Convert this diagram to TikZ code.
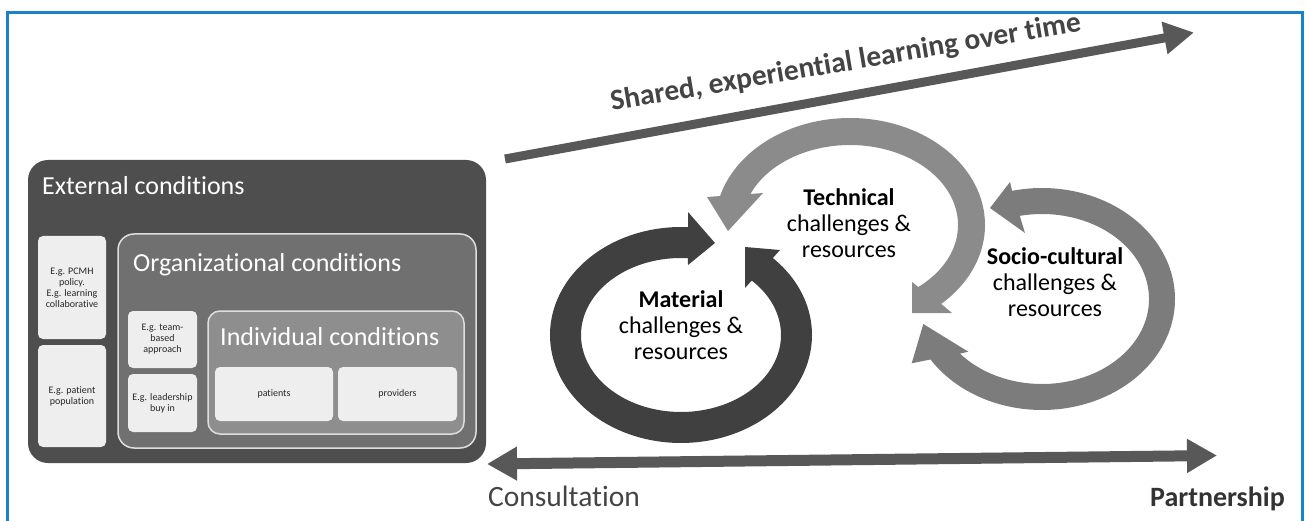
\documentclass[tikz,border=0pt]{standalone}
\usepackage{fontspec}
\setmainfont{Carlito}[Ligatures=NoCommon]
\usetikzlibrary{arrows.meta}

\definecolor{frameblue}{RGB}{26,130,200}
\definecolor{extgray}{RGB}{78,78,78}
\definecolor{orggray}{RGB}{112,112,112}
\definecolor{indgray}{RGB}{142,142,142}
\definecolor{cardgray}{RGB}{238,238,238}
\definecolor{edgegray}{RGB}{222,222,222}
\definecolor{matgray}{RGB}{64,64,64}
\definecolor{techgray}{RGB}{139,139,139}
\definecolor{sociogray}{RGB}{124,124,124}
\definecolor{arrowgray}{RGB}{88,88,88}
\definecolor{labelgray}{RGB}{68,68,68}
\definecolor{cardtext}{RGB}{38,38,38}

\begin{document}
\begin{tikzpicture}[x=1pt,y=-1pt,
  panel/.style={anchor=north west, inner sep=0pt, outer sep=0pt},
  card/.style={panel, fill=cardgray, rounded corners=5pt, align=center,
    font=\fontsize{10}{11}\selectfont, text=cardtext},
  heading/.style={anchor=base west, inner sep=0pt, text=white,
    font=\fontsize{26}{30}\selectfont},
  cyclelabel/.style={align=center, inner sep=0pt, font=\fontsize{24}{26}\selectfont},
  bigarrow/.style={draw=arrowgray},
]
\useasboundingbox (0,0) rectangle (1308,521);

% frame
\draw[frameblue, line width=3pt] (7.5,522) -- (7.5,12.5) -- (1302,12.5) -- (1302,522);

% nested condition panels
\node[panel, fill=extgray, rounded corners=20pt, minimum width=458pt, minimum height=303pt] (ext) at (28,160) {};
\node[heading] (extT) at (42,195) {External conditions};
\node[card, minimum width=68pt, minimum height=103pt] (pcmh) at (38,236) {E.g. PCMH\\policy.\\E.g. learning\\collaborative};
\node[card, minimum width=68pt, minimum height=102pt] (popul) at (38,345) {E.g. patient\\population};

\node[panel, fill=orggray, draw=edgegray, line width=1.5pt, rounded corners=16pt, minimum width=358pt, minimum height=214pt] (org) at (118,234) {};
\node[heading] (orgT) at (133,272) {Organizational conditions};
\node[card, minimum width=69pt, minimum height=57pt] (team) at (128,311) {E.g. team-\\based\\approach};
\node[card, minimum width=69pt, minimum height=58pt] (lead) at (128,374) {E.g. leadership\\buy in};

\node[panel, fill=indgray, draw=edgegray, line width=1.5pt, rounded corners=12pt, minimum width=256pt, minimum height=123pt] (ind) at (208,311) {};
\node[heading] (indT) at (220,345) {Individual conditions};
\node[card, minimum width=118pt, minimum height=54pt] (pat) at (215,367) {patients};
\node[card, minimum width=119pt, minimum height=54pt] (prov) at (338,367) {providers};

% material cycle (dark ring, heads meeting at the top)
\fill[matgray]
  plot[domain=-45.5:273.06, samples=140, variable=\t] ({681+131*cos(\t)},{335+108*sin(\t)})
  -- (688,212) -- (715,243) -- (688,265)
  -- plot[domain=273.97:-45, samples=140, variable=\t] ({681+100*cos(\t)},{335+77*sin(\t)})
  -- (745,288) -- (745,247) -- (780,250) -- cycle;

% technical cycle
\fill[techgray]
  plot[domain=195.7:407.5, samples=140, variable=\t] ({850+135*cos(\t)},{225+107*sin(\t)})
  -- (952,313) -- (912,313) -- (912,282)
  -- plot[domain=410.8:202.8, samples=140, variable=\t] ({850+108*cos(\t)},{225+80*sin(\t)})
  -- (763,193) -- (728,231) -- (707,197) -- cycle;

% socio-cultural cycle
\fill[sociogray]
  plot[domain=257:507, samples=140, variable=\t] ({1042+133*cos(\t)},{299+111*sin(\t)})
  -- (911.7,363.3) -- (923.3,324) -- (968.3,351.7)
  -- plot[domain=500:258, samples=140, variable=\t] ({1042+107*cos(\t)},{299+85*sin(\t)})
  -- (1025,233) -- (990,208) -- (1010,182) -- cycle;

\node[cyclelabel] (techL) at (849,223) {\textbf{Technical}\\challenges \&\\resources};
\node[cyclelabel] (matL) at (681,325) {\textbf{Material}\\challenges \&\\resources};
\node[cyclelabel] (socL) at (1055,282) {\textbf{Socio-cultural}\\challenges \&\\resources};

% learning over time
\coordinate (learnS) at (505,159);
\coordinate (learnE) at (1194,32.5);
\draw[bigarrow, line width=9pt, -{Triangle[length=30pt,width=31pt]}] (learnS) -- (learnE);
\node[anchor=base, rotate=9.6, inner sep=0pt, text=labelgray, font=\bfseries\fontsize{29.5}{31}\selectfont] (learnT) at (847,71) {Shared, experiential learning over time};

% consultation -- partnership continuum
\coordinate (consL) at (487,464);
\coordinate (partR) at (1217,455.5);
\draw[bigarrow, line width=11pt, {Triangle[length=30pt,width=32pt]}-{Triangle[length=30pt,width=32pt]}] (consL) -- (partR);
\node[anchor=base west, inner sep=0pt, text=labelgray, font=\fontsize{29.5}{31}\selectfont] (consT) at (488,506) {Consultation};
\node[anchor=base east, inner sep=0pt, text=black!80, font=\bfseries\fontsize{28}{30}\selectfont] (partT) at (1285,506) {Partnership};
\end{tikzpicture}
\end{document}
